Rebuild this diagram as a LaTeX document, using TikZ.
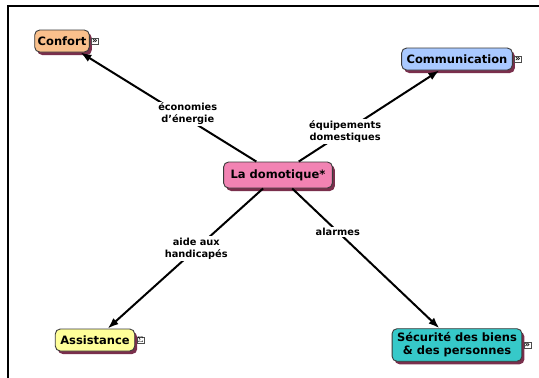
\documentclass[tikz,border=0pt]{standalone}
\usepackage{fontspec}
\setmainfont{DejaVu Sans}
\usepackage{tikz}
\usetikzlibrary{shapes,arrows,arrows.meta,fit,calc,positioning,shadows}

\definecolor{confortc}{HTML}{F9C08C}
\definecolor{commc}{HTML}{A9C9FF}
\definecolor{domoc}{HTML}{F283B3}
\definecolor{assistc}{HTML}{FFFF99}
\definecolor{securc}{HTML}{36C9C9}
\definecolor{shadowc}{HTML}{7A2F4C}
\definecolor{edgec}{HTML}{3A3A3A}

\tikzset{
  concept/.style={draw=edgec, line width=0.9pt, rounded corners=5pt,
    inner xsep=5pt, inner ysep=3pt, minimum height=22pt, align=center,
    font=\fontsize{11.5}{13}\selectfont\bfseries,
    drop shadow={shadow xshift=2.5pt, shadow yshift=-3pt, fill=shadowc, opacity=1}},
  linklabel/.style={fill=white, inner sep=1.5pt, align=center, anchor=center,
    font=\fontsize{9.8}{12}\selectfont\bfseries},
  icon/.style={draw=black!70, fill=white, line width=0.3pt, inner sep=0.6pt,
    font=\fontsize{8.5}{8.5}\selectfont\bfseries, anchor=west},
  link/.style={-{Latex[length=11pt,width=8pt]}, line width=2pt}
}

\begin{document}
\begin{tikzpicture}[x=1pt,y=-1pt,node distance=3cm,on grid]
      \useasboundingbox (0,0) rectangle (539,378);
      \draw[line width=2pt] (8,378) -- (8,6) -- (539,6);

      \node[concept,fill=domoc,minimum height=26pt,inner xsep=7pt] (domo) at (278,175) {La domotique*};
      \node[concept,fill=confortc,inner xsep=3pt] (confort) [above left=134pt and 216pt of domo] {Confort};
      \node[concept,fill=commc] (comm) [above right=116pt and 179pt of domo] {Communication};
      \node[concept,fill=assistc] (assist) [below left=165pt and 183pt of domo] {Assistance};
      \node[concept,fill=securc,inner ysep=4pt] (secur) [below right=170pt and 179pt of domo] {Sécurité des biens\\\& des personnes};

      \node[icon] (confort-i) at ([xshift=1.5pt]confort.east) {»};
      \node[icon] (comm-i) at ([xshift=1.5pt]comm.east) {»};
      \node[icon] (assist-i) at ([xshift=1.5pt]assist.east) {$\Sigma$};
      \node[icon] (secur-i) at ([xshift=1.5pt]secur.east) {»};

      \path[link] (domo) edge node[linklabel,pos=0.39,yshift=5pt] {économies\\d'énergie} (confort);
      \path[link] (domo) edge node[linklabel,pos=0.33] {équipements\\domestiques} (comm);
      \path[link] (domo) edge node[linklabel,pos=0.43] {aide aux\\handicapés} (assist);
      \path[link] (domo) edge node[linklabel,pos=0.31] {alarmes} (secur);
    \end{tikzpicture}
\end{document}
